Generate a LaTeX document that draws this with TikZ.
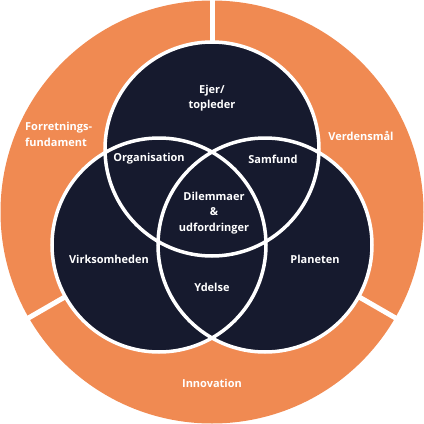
\documentclass[tikz,border=0pt]{standalone}
\usepackage{fontspec}
\setmainfont{Open Sans}
\definecolor{orng}{HTML}{F08A52}
\definecolor{navy}{HTML}{161A2E}
\tikzset{
  lbl/.style={text=white, font=\bfseries\fontsize{11}{15.5}\selectfont, align=center, inner sep=0pt},
  gap/.style={white, line width=5pt},
  ring/.style={draw=white, line width=3.5pt},
}
\begin{document}
\begin{tikzpicture}[x=1pt,y=-1pt]
\useasboundingbox (0,0) rectangle (424,424);
% outer orange disc
\fill[orng] (212,212) circle[radius=211.5pt];
\coordinate (c0) at (212,212);
\coordinate (g1) at (212,-5);
\coordinate (g2) at (21,322.3);
\coordinate (g3) at (403,322.3);
\draw[gap] (c0) -- (g1);
\draw[gap] (c0) -- (g2);
\draw[gap] (c0) -- (g3);
% circles
\coordinate (ct) at (212,149);
\coordinate (cl) at (159,245);
\coordinate (cr) at (265,245);
\fill[navy] (ct) circle[radius=107pt];
\fill[navy] (cl) circle[radius=107pt];
\fill[navy] (cr) circle[radius=107pt];
\draw[ring] (ct) circle[radius=107pt];
\draw[ring] (cl) circle[radius=107pt];
\draw[ring] (cr) circle[radius=107pt];
% labels
\node[lbl] (ejer) at (212,98) {Ejer/\\topleder};
\node[lbl, align=left, anchor=west] (forr) at (25,134.5) {Forretnings-\\fundament};
\node[lbl] (verd) at (361,136) {Verdensmål};
\node[lbl] (org) at (149,159) {Organisation};
\node[lbl] (samf) at (273,159) {Samfund};
\node[lbl] (dil) at (214,213) {Dilemmaer\\\&\\udfordringer};
\node[lbl] (virk) at (109,259) {Virksomheden};
\node[lbl] (plan) at (315,259) {Planeten};
\node[lbl] (ydel) at (212,287) {Ydelse};
\node[lbl] (innov) at (212,383) {Innovation};
\end{tikzpicture}
\end{document}
